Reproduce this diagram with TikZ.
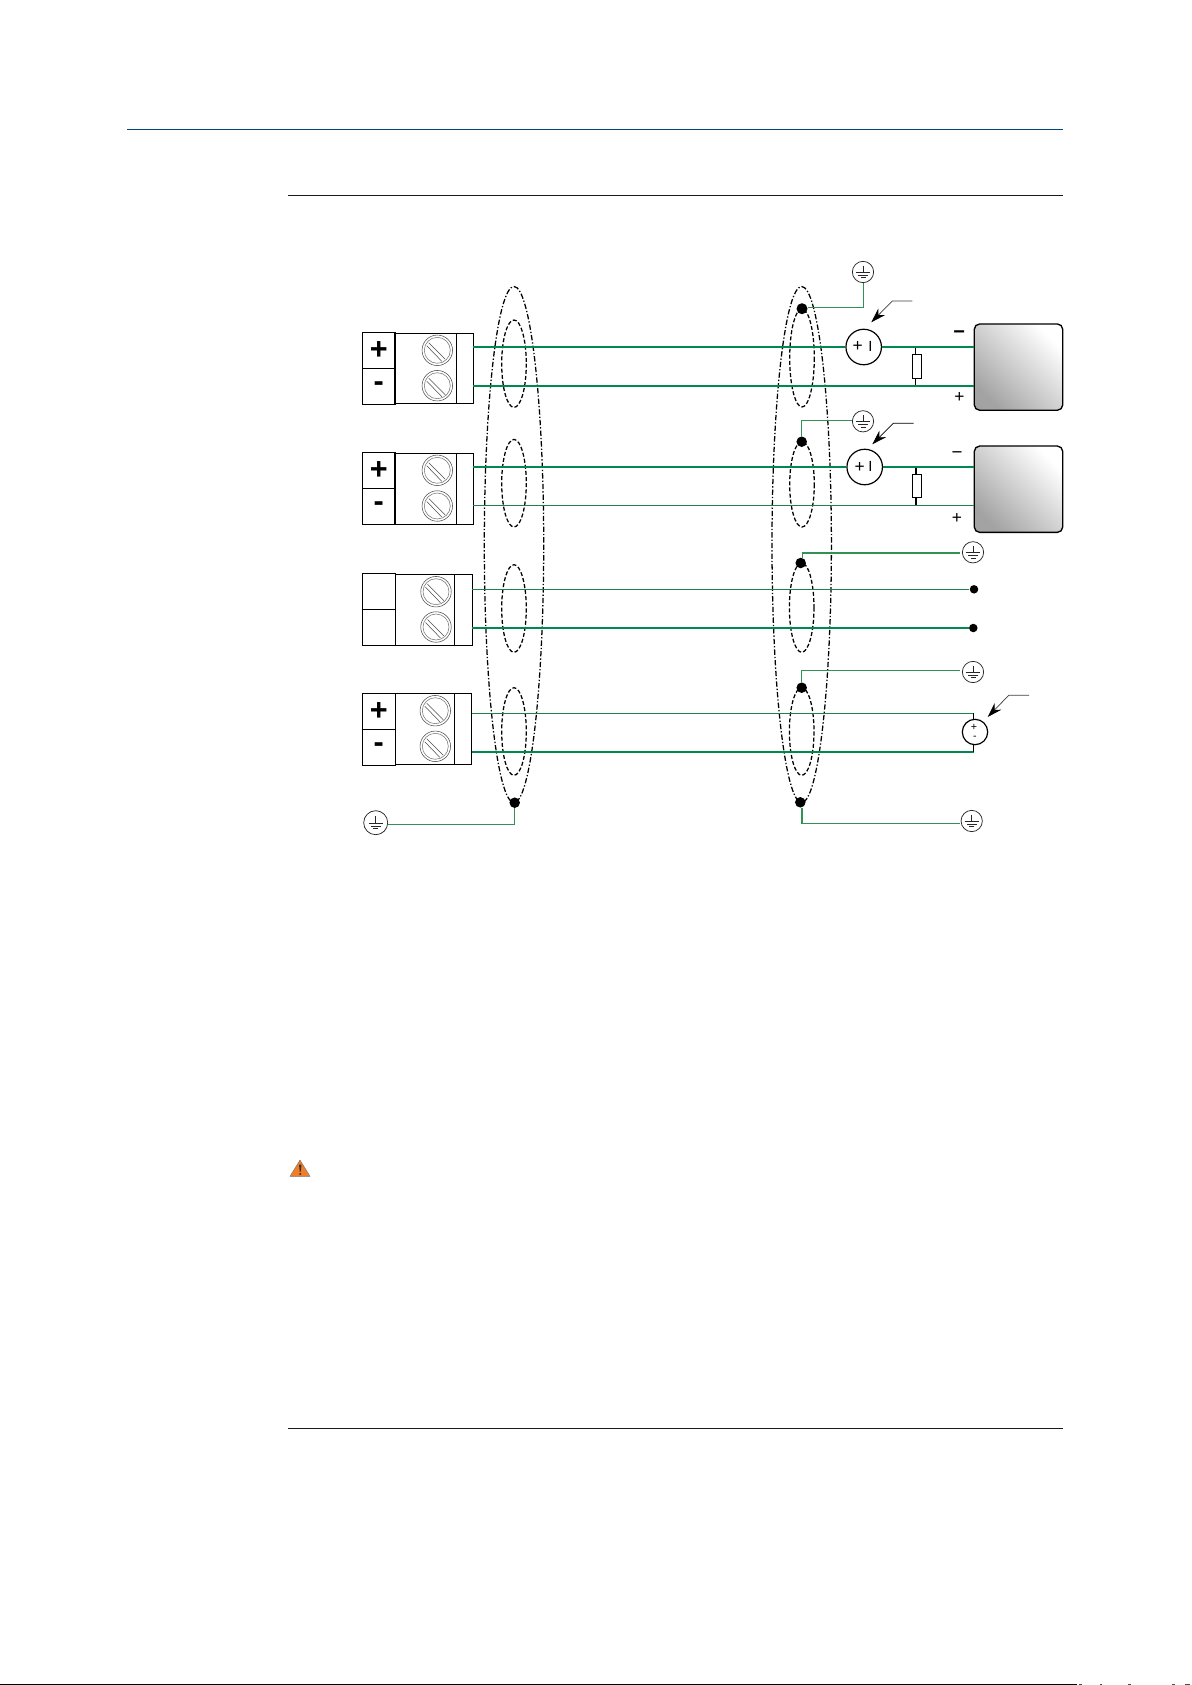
\documentclass[tikz,border=0pt]{standalone}
\usepackage{fontspec}
\setmainfont{Liberation Sans}
\usetikzlibrary{arrows.meta}
\definecolor{wgreen}{RGB}{0,137,79}
\definecolor{wlight}{RGB}{30,130,75}
\definecolor{gndgreen}{RGB}{50,145,85}
\definecolor{hdrblue}{RGB}{0,70,125}
\definecolor{warnor}{RGB}{240,125,40}
\def\pxu{0.75pt}
\tikzset{
  x=0.75pt,y=-0.75pt,
  wthick/.style={wgreen,line width=1.25pt},
  wthin/.style={wlight,line width=0.7pt},
  gwire/.style={gndgreen,line width=0.7pt},
  gwirethick/.style={gndgreen,line width=1.2pt},
  shieldouter/.style={black,line width=0.95pt,dash pattern=on 4pt off 1.5pt on 1pt off 1.5pt},
  shieldinner/.style={black,line width=0.95pt,dash pattern=on 3pt off 1.6pt},
  dotnode/.style={circle,fill=black,inner sep=0pt,minimum size=10.5*\pxu},
  enddot/.style={circle,fill=black,inner sep=0pt,minimum size=8.5*\pxu},
  termlabel/.style={draw=black,line width=0.7pt,inner sep=0pt,minimum width=32.7*\pxu,minimum height=36*\pxu,
     font=\fontsize{23}{23}\selectfont\bfseries,text=black},
  termbody/.style={draw=black,line width=0.7pt,inner sep=0pt},
  gndring/.style={circle,draw=black!85,line width=0.55pt,inner sep=0pt,minimum size=21.3*\pxu},
  screwring/.style={circle,draw=black!70,line width=0.4pt,inner sep=0pt,minimum size=#1*\pxu},
  srcnode/.style={circle,draw=black,line width=0.9pt,fill=white,inner sep=0pt,minimum size=35.5*\pxu},
  resnode/.style={draw=black,line width=0.65pt,fill=white,inner sep=0pt,minimum width=9.3*\pxu},
  callout/.style={black!75,line width=0.55pt,-{Stealth[length=11pt,width=7pt,color=black]}},
  pinlead/.style={black,line width=0.6pt},
  pinleadb/.style={black,line width=1.1pt},
  devbox/.style={rounded corners=4pt,draw=black,line width=1pt,top color=white,bottom color=black!36,shading angle=-45},
  sgn/.style={inner sep=0pt,font=\fontsize{13}{13}\selectfont,text=black},
}
% ground symbol: #1 name, #2 x, #3 y, #4 ring diameter in px
\newcommand{\gndsym}[4]{%
  \node[gndring,minimum size=#4*\pxu] (#1) at (#2,#3) {};
  \draw[black!85,line width=0.55pt] (#2,#3-6.5) -- (#2,#3+0.5)
     (#2-7.2,#3+0.5) -- (#2+7.2,#3+0.5)
     (#2-4.8,#3+3.2) -- (#2+4.8,#3+3.2)
     (#2-2.5,#3+5.8) -- (#2+2.5,#3+5.8);}
% screw: #1 name, #2 x, #3 y
\newcommand{\screwsym}[3]{%
  \node[screwring=30.5] (#1) at (#2,#3) {};
  \node[screwring=26,draw=black!55] at (#2,#3) {};
  \draw[black!70,line width=0.4pt] (#2-8.5,#3-7.5) -- (#2+8,#3+9)
     (#2-10.5,#3-4.5) -- (#2+4.5,#3+11);}
\begin{document}
\begin{tikzpicture}
\useasboundingbox (0,0) rectangle (1192,1685);
\fill[white] (0,0) rectangle (1192,1685);
% page rules
\coordinate (ra) at (127,129.5); \coordinate (rb) at (1063,129.5);
\draw[hdrblue,line width=0.55pt] (ra) -- (rb);
\coordinate (rc) at (288,195); \coordinate (rd) at (1063,195);
\draw[black!90,line width=0.75pt] (rc) -- (rd);
\coordinate (re) at (288,1428.5); \coordinate (rf) at (1063,1428.5);
\draw[black!90,line width=0.75pt] (re) -- (rf);
\coordinate (rg) at (0,1684.5); \coordinate (rh) at (1077,1684.5);
\draw[black,line width=0.75pt] (rg) -- (rh);
\draw[black!70,line width=0.75pt] (1079,1684.5) -- (1082,1684.5) (1100,1684.5) -- (1102,1684.5)
   (1128,1684.5) -- (1131,1684.5) (1172,1684.5) -- (1175,1684.5) (1185,1684.5) -- (1190,1684.5);
% warning icon
\fill[warnor,draw=black!55,line width=0.3pt,line join=round] (290,1176.3) -- (300,1160) -- (310,1176.3) -- cycle;
\fill[black!80] (299,1164.5) -- (301.5,1164.5) -- (300.8,1171.5) -- (299.7,1171.5) -- cycle;
\fill[black!80] (300.25,1174) circle (1.1);
% shields
\draw[shieldouter] (514,544.5) ellipse (29.7 and 258);
\draw[shieldouter] (801.7,544.5) ellipse (29.7 and 258);
\foreach \cy/\ry in {363.7/43.7,483.2/43.8,608.5/43.8,731.5/43.8}
  \draw[shieldinner] (514,\cy) ellipse (12.3 and \ry);
\draw[shieldinner] (802,358) ellipse (12.3 and 49);
\draw[shieldinner] (802,484.3) ellipse (12.3 and 42.7);
\draw[shieldinner] (801.7,607.6) ellipse (12.3 and 44.7);
\draw[shieldinner] (801.7,731.5) ellipse (12.3 and 43.8);
% terminal blocks
\node[termlabel] (l1p) at (378.7,350.3) {\raisebox{-0.8pt}{+}};
\node[termlabel] (l1m) at (378.7,386.3) {\raisebox{-2pt}{-}};
\node[termbody,minimum width=78.3*\pxu,minimum height=70*\pxu] (b1) at (434.1,368.3) {};
\node[termlabel] (l2p) at (378.7,470.3) {\raisebox{-0.8pt}{+}};
\node[termlabel] (l2m) at (378.7,506.3) {\raisebox{-2pt}{-}};
\node[termbody,minimum width=78.3*\pxu,minimum height=71*\pxu] (b2) at (434.1,488.8) {};
\node[termlabel] (l3p) at (378.7,591.3) {};
\node[termlabel] (l3m) at (378.7,627.3) {};
\node[termbody,minimum width=77.3*\pxu,minimum height=71*\pxu] (b3) at (433.7,609.8) {};
\node[termlabel] (l4p) at (378.7,711.3) {\raisebox{-0.8pt}{+}};
\node[termlabel] (l4m) at (378.7,747.3) {\raisebox{-2pt}{-}};
\node[termbody,minimum width=76.7*\pxu,minimum height=71*\pxu] (b4) at (433.4,728.8) {};
\draw[black,line width=0.7pt] (456.7,333.3) -- (456.7,403.3) (456.7,453.3) -- (456.7,524.3)
   (454.3,574.3) -- (454.3,645.3) (454.3,693.3) -- (454.3,764.3);
\screwsym{s1a}{437.3}{350.3}\screwsym{s1b}{437.3}{385.7}
\screwsym{s2a}{437.3}{470.3}\screwsym{s2b}{437.3}{506}
\screwsym{s3a}{436}{591.7}\screwsym{s3b}{436}{627}
\screwsym{s4a}{435.3}{710.7}\screwsym{s4b}{435.3}{746.3}
% devices
\node[devbox,minimum width=88.4*\pxu,minimum height=86.3*\pxu,inner sep=0pt] (d1) at (1018.5,367.1) {};
\node[devbox,minimum width=88.4*\pxu,minimum height=86.3*\pxu,inner sep=0pt] (d2) at (1018.5,489.2) {};
% current sources
\node[srcnode] (c1) at (863.7,347) {};
\node[srcnode] (c2) at (864.7,467) {};
\node[sgn,font=\fontsize{13}{13}\selectfont] at (857.7,346.8) {+};
\node[sgn,font=\fontsize{11}{11}\selectfont] at (870.5,346.3) {I};
\node[sgn,font=\fontsize{13}{13}\selectfont] at (859.7,467.3) {+};
\node[sgn,font=\fontsize{11}{11}\selectfont] at (870.5,466.6) {I};
% voltage source
\node[srcnode,minimum size=25.4*\pxu] (v1) at (975,732) {};
\node[sgn,font=\fontsize{8}{8}\selectfont] at (974,727.3) {+};
\node[sgn,font=\fontsize{8}{8}\selectfont] at (975,738) {-};
% resistors leads and bodies
\coordinate (r1t) at (915.3,347); \coordinate (r1b) at (915.3,385.7);
\coordinate (r2t) at (916,467);   \coordinate (r2b) at (916,505.7);
\draw[pinlead] (r1t) -- (r1b);
\draw[pinleadb] (r2t) -- (r2b);
\node[resnode,minimum height=24*\pxu] (r1) at (917,366.3) {};
\node[resnode,minimum height=23.4*\pxu] (r2) at (917,486) {};
% wires
\coordinate (w1a) at (473.3,347); \coordinate (w1b) at (473.3,386);
\coordinate (w2a) at (473.3,467); \coordinate (w2b) at (473.3,505.7);
\coordinate (w3a) at (472.3,589.3); \coordinate (w3b) at (472.3,628);
\coordinate (w4a) at (471.7,713.3); \coordinate (w4b) at (471.7,752);
\coordinate (d1a) at (974.3,347); \coordinate (d1b) at (974.3,386);
\coordinate (d2a) at (974.3,467); \coordinate (d2b) at (974.3,505.7);
\draw[wthick] (w1a) -- (c1.west);
\draw[wthick] (c1.east) -- (d1a);
\draw[wthick] (w1b) -- (d1b);
\draw[wthick] (w2a) -- (c2.west);
\draw[wthick] (c2.east) -- (d2a);
\draw[wthin] (w2b) -- (d2b);
\node[enddot] (e3a) at (974,589.3) {};
\node[enddot] (e3b) at (973.3,628) {};
\draw[wthin] (w3a) -- (e3a);
\draw[wthick] (w3b) -- (e3b);
\coordinate (v1t) at (973.3,713.3); \coordinate (v1b) at (973.3,752);
\draw[wthin] (w4a) -- (v1t);
\draw[wthick] (w4b) -- ([xshift=1*\pxu]v1b);
\draw[pinlead] (v1t) -- (v1.north -| v1t);
\draw[pinlead] (v1.south -| v1b) -- (v1b);
% shield dots
\node[dotnode] (dl) at (514.7,802.7) {};
\node[dotnode,minimum size=11*\pxu] (k1) at (802,308.7) {};
\node[dotnode] (k2) at (801.7,441.7) {};
\node[dotnode] (k3) at (800.7,563) {};
\node[dotnode] (k4) at (801.7,687.7) {};
\node[dotnode] (k5) at (800.3,802.3) {};
% grounds
\gndsym{g0}{375.7}{822.7}{24}
\gndsym{g1}{863}{272}{21.3}
\gndsym{g2}{863}{421.3}{21.3}
\gndsym{g3}{973}{552.3}{21.3}
\gndsym{g4}{973}{672}{21.3}
\gndsym{g5}{971.7}{821}{21.3}
\draw[gwire] (g0.east) ++(0,1.6) -| (dl.south);
\draw[gwire] (k1.east) ++(0,-1.4) -| (g1.south);
\draw[gwire] (k2.north) |- ([yshift=0.75pt]g2.west);
\draw[gwirethick] (k3.north east) ++(-2,0) |- ([yshift=-0.5pt,xshift=-1.5*\pxu]g3.west);
\draw[gwire] (k4.north) |- ([yshift=1.3pt,xshift=-1.5*\pxu]g4.west);
\draw[gwirethick] (k5.south) ++(1.7,0) |- ([yshift=-2pt,xshift=-1*\pxu]g5.west);
% callouts
\coordinate (a1s) at (912.3,301); \coordinate (a1k) at (892.3,301); \coordinate (a1t) at (871.3,322.3);
\coordinate (a2s) at (913.7,423.3); \coordinate (a2k) at (893.3,423.3); \coordinate (a2t) at (872.3,444.3);
\coordinate (a3s) at (1029,695.3); \coordinate (a3k) at (1008.7,695.3); \coordinate (a3t) at (987.7,717);
\draw[callout] (a1s) -- (a1k) -- (a1t);
\draw[callout,black] (a2s) -- (a2k) -- (a2t);
\draw[callout] (a3s) -- (a3k) -- (a3t);
% polarity marks
\node[sgn,font=\fontsize{15}{15}\selectfont\bfseries] at (959.3,334.7) {−};
\node[sgn] at (959.3,397.3) {+};
\node[sgn,font=\fontsize{14}{14}\selectfont] at (957,455.3) {−};
\node[sgn] at (957,518.3) {+};
\end{tikzpicture}
\end{document}
